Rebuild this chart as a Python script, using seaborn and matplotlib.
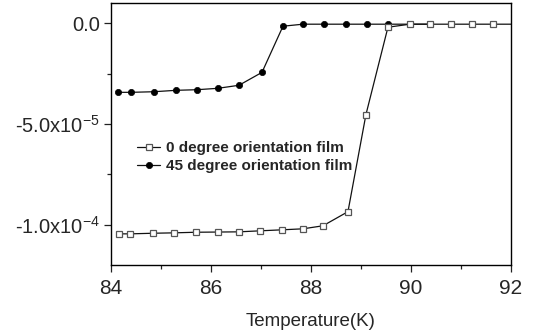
import matplotlib
matplotlib.use("Agg")
import matplotlib.pyplot as plt
import seaborn as sns
import numpy as np
from matplotlib.ticker import MultipleLocator, FixedLocator

# Data
t0 = [84.16, 84.38, 84.84, 85.26, 85.70, 86.14, 86.56, 86.98, 87.42, 87.84,
      88.24, 88.74, 89.10, 89.54, 89.98, 90.38, 90.80, 91.22, 91.64, 92.10]
m0 = [-1.045e-4, -1.045e-4, -1.042e-4, -1.040e-4, -1.037e-4, -1.036e-4, -1.035e-4,
      -1.030e-4, -1.025e-4, -1.020e-4, -1.005e-4, -0.935e-4, -0.453e-4,
      -0.020e-4, -0.005e-4, -0.005e-4, -0.005e-4, -0.005e-4, -0.005e-4, -0.005e-4]
t45 = [84.14, 84.40, 84.86, 85.30, 85.72, 86.14, 86.56, 87.02, 87.44, 87.84,
       88.26, 88.70, 89.12, 89.54, 90.38]
m45 = [-3.43e-5, -3.43e-5, -3.40e-5, -3.33e-5, -3.30e-5, -3.23e-5, -3.08e-5,
       -2.44e-5, -0.15e-5, -0.05e-5, -0.05e-5, -0.05e-5, -0.05e-5, -0.05e-5, -0.05e-5]
labels = ["0 degree orientation film", "45 degree orientation film"]
yticks = [0.0, -5.0e-5, -1.0e-4]
yticklabels = ["0.0", r"-5.0x10$^{-5}$", r"-1.0x10$^{-4}$"]
xticks = [84, 86, 88, 90, 92]

sns.set_theme(style="ticks")
plt.rcParams["font.family"] = ["Liberation Sans", "DejaVu Sans"]
plt.rcParams["mathtext.fontset"] = "custom"
plt.rcParams["mathtext.rm"] = "Liberation Sans"
plt.rcParams["mathtext.default"] = "regular"

fig = plt.figure(figsize=(5.35, 3.36), dpi=100)
ax = fig.add_axes([0.2075, 0.211, 0.7475, 0.780])

sns.lineplot(x=t0, y=m0, ax=ax, color="#111111", lw=0.9, marker="s", markersize=4,
             markerfacecolor="white", markeredgecolor="#555555", markeredgewidth=0.9,
             label=labels[0], zorder=3, sort=False)
sns.lineplot(x=t45, y=m45, ax=ax, color="#111111", lw=0.9, marker="o", markersize=4.5,
             markerfacecolor="black", markeredgecolor="black", markeredgewidth=0.5,
             label=labels[1], zorder=2, sort=False)

ax.set_xlim(84, 92)
ax.set_ylim(-1.2e-4, 1.0e-5)
ax.set_xticks(xticks)
ax.set_xticklabels([str(x) for x in xticks], fontsize=15)
ax.set_yticks(yticks)
ax.set_yticklabels(yticklabels, fontsize=14.5)
ax.xaxis.set_minor_locator(MultipleLocator(1))
ax.yaxis.set_minor_locator(FixedLocator([-2.5e-5, -7.5e-5]))
ax.tick_params(which="major", length=5, width=0.9, color="#222222")
ax.tick_params(axis="x", which="major", pad=5)
ax.tick_params(axis="y", which="major", pad=3)
ax.tick_params(which="minor", length=3, width=0.9, color="#222222")
ax.tick_params(axis="x", which="both", top=False)
ax.tick_params(axis="y", which="both", right=False)
for s in ax.spines.values():
    s.set_visible(True)
    s.set_linewidth(1.0)
    s.set_color("black")

ax.set_xlabel("Temperature(K)", fontsize=13.5, labelpad=11)
ax.set_ylabel("")

leg = ax.legend(loc="upper left", bbox_to_anchor=(0.05, 0.495), frameon=False,
                prop={"weight": "bold", "size": 11}, handlelength=1.5,
                handletextpad=0.4, labelspacing=0.25, borderaxespad=0)

fig.savefig("out.png", dpi=100)
